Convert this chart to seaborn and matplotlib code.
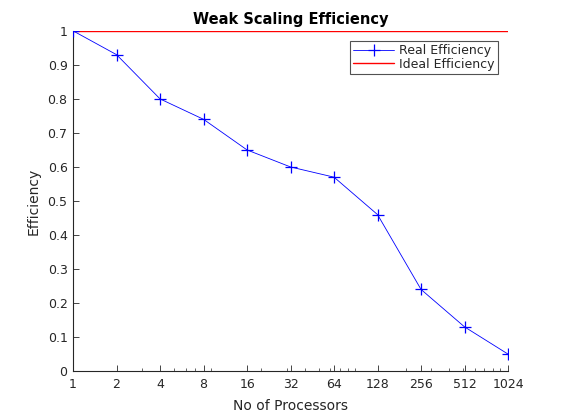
import matplotlib
matplotlib.use("Agg")
import matplotlib.pyplot as plt
import matplotlib.ticker as mticker
import seaborn as sns
import pandas as pd

processors = [1, 2, 4, 8, 16, 32, 64, 128, 256, 512, 1024]
real_eff = [1.0, 0.93, 0.80, 0.74, 0.65, 0.60, 0.57, 0.46, 0.24, 0.13, 0.05]
ideal_eff = [1.0] * len(processors)
yticks = [0, 0.1, 0.2, 0.3, 0.4, 0.5, 0.6, 0.7, 0.8, 0.9, 1]

sns.set_style("white")
plt.rcParams['font.family'] = ['DejaVu Sans']

df = pd.DataFrame({"p": processors, "real": real_eff, "ideal": ideal_eff})

fig = plt.figure(figsize=(5.62, 4.17), dpi=100)
ax = fig.add_axes([0.130, 0.110, 0.774, 0.816])

sns.lineplot(data=df, x="p", y="ideal", ax=ax, color="red", linewidth=1.0,
             label="Ideal Efficiency", zorder=2)
sns.lineplot(data=df, x="p", y="real", ax=ax, color="blue", marker="+",
             markersize=8, markeredgewidth=0.9, markeredgecolor="blue",
             markerfacecolor="blue", linewidth=0.6, label="Real Efficiency", zorder=3)

ax.set_xscale("log", base=2)
ax.set_xlim(1, 1024)
ax.set_ylim(0, 1)
ax.set_xticks(processors)
ax.set_xticklabels([str(p) for p in processors])
ax.xaxis.set_minor_locator(mticker.LogLocator(base=10, subs=[2, 3, 4, 5, 6, 7, 8, 9]))
ax.xaxis.set_minor_formatter(mticker.NullFormatter())
ax.set_yticks(yticks)
ax.set_yticklabels([f"{v:g}" for v in yticks])

for s in ["top", "right"]:
    ax.spines[s].set_visible(False)
for s in ["left", "bottom"]:
    ax.spines[s].set_color("#262626")
    ax.spines[s].set_linewidth(0.8)

ax.tick_params(axis="both", which="major", direction="in", length=4, width=0.6,
               colors="#262626", labelsize=9, left=True, bottom=True, pad=4)
ax.tick_params(axis="x", which="major", pad=5)
ax.tick_params(axis="x", which="minor", direction="in", length=2, width=0.5,
               colors="#262626", bottom=True)

ax.set_xlabel("No of Processors", fontsize=10, color="#262626", labelpad=6)
ax.set_ylabel("Efficiency", fontsize=10, color="#262626", labelpad=5)
ax.set_title("Weak Scaling Efficiency", fontsize=10.5, fontweight="bold",
             color="black", pad=5)

handles, labels = ax.get_legend_handles_labels()
order = [labels.index("Real Efficiency"), labels.index("Ideal Efficiency")]
leg = ax.legend([handles[i] for i in order], [labels[i] for i in order],
                loc="upper right", bbox_to_anchor=(0.977, 0.97), fontsize=9,
                frameon=True, fancybox=False, edgecolor="#262626",
                handlelength=3.3, borderpad=0.25, labelspacing=0.05,
                handletextpad=0.4, borderaxespad=0, markerscale=1.0)
leg.get_frame().set_linewidth(0.8)

fig.savefig("out.png", dpi=100, facecolor="white")
